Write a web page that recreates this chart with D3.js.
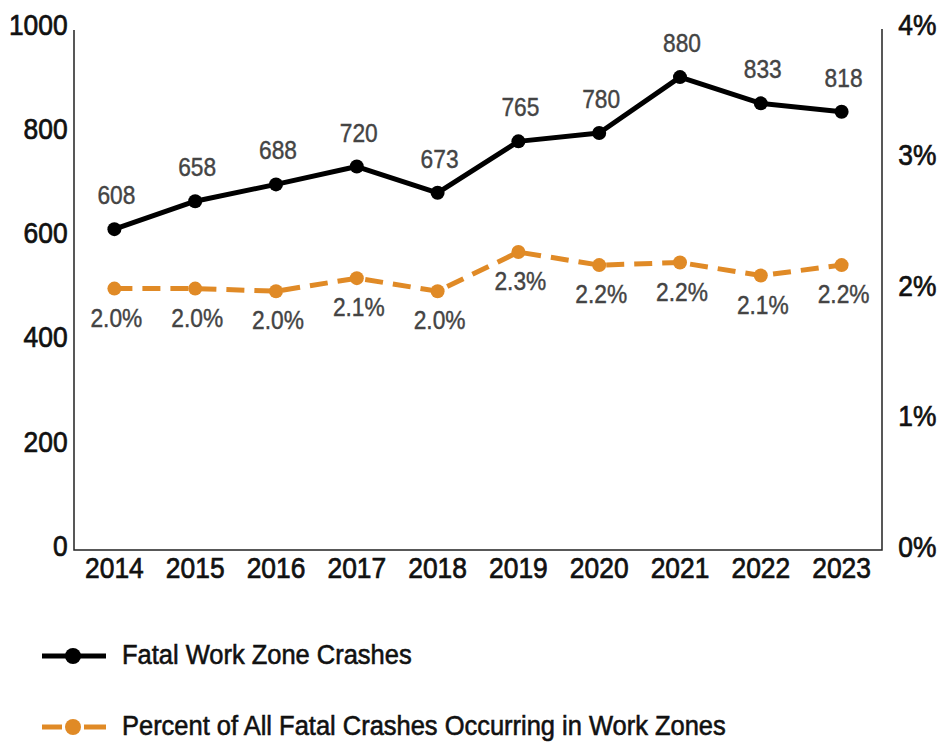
<!DOCTYPE html>
<html lang="en">
<head>
    <meta charset="UTF-8">
    <script src="https://d3js.org/d3.v7.min.js"></script>
    <style>
        body { margin: 0; background: #fff; }
        text { font-family: "Liberation Sans", Arial, sans-serif; }
    </style>
</head>
<body>
<div id="visualization"></div>

<script>
// chart data
const years = ["2014", "2015", "2016", "2017", "2018", "2019", "2020", "2021", "2022", "2023"];
const fatalCrashes = [608, 658, 688, 720, 673, 765, 780, 880, 833, 818];
const percentWorkZone = [1.98, 1.98, 1.96, 2.06, 1.96, 2.26, 2.16, 2.18, 2.08, 2.16];
const leftTicks = [0, 200, 400, 600, 800, 1000];
const rightTicks = [0, 1, 2, 3, 4];
const legendLabels = ["Fatal Work Zone Crashes", "Percent of All Fatal Crashes Occurring in Work Zones"];

const svgWidth = 941, svgHeight = 742;
const left = 74, right = 882, bottom = 550;
const squeeze = 'scale(0.91,1)';
const orange = '#e08a26';

const svg = d3.select('#visualization').append('svg')
    .attr('width', svgWidth)
    .attr('height', svgHeight);

const x = d3.scaleBand().domain(years).range([left, right]);
const cx = (d) => x(d) + x.bandwidth() / 2;

const yAxisLeft = d3.scaleLinear().domain([0, 1000]).range([546, 25]);
const yLine = d3.scaleLinear().domain([0, 1000]).range([569, 10]);
const yPct = d3.scaleLinear().domain([0, 4]).range([547, 25]);

// frame (no top line)
svg.append('path')
    .attr('d', `M${left},30V${bottom}H${right}V29`)
    .attr('fill', 'none')
    .attr('stroke', '#222')
    .attr('stroke-width', 1.5);

// axes
const xAxis = svg.append('g')
    .attr('transform', 'translate(0,' + bottom + ')')
    .call(d3.axisBottom(x).tickSize(0).tickPadding(7));

const yAxisL = svg.append('g')
    .attr('transform', 'translate(' + left + ',0)')
    .call(d3.axisLeft(yAxisLeft).tickValues(leftTicks).tickSize(0).tickPadding(7).tickFormat(d3.format('d')));

const yAxisR = svg.append('g')
    .attr('transform', 'translate(' + right + ',0)')
    .call(d3.axisRight(yPct).tickValues(rightTicks).tickSize(0).tickPadding(18).tickFormat((d) => d + '%'));

[xAxis, yAxisL, yAxisR].forEach((g) => {
    g.select('.domain').remove();
    g.selectAll('text')
        .attr('font-size', 29)
        .attr('font-family', '"Liberation Sans", Arial, sans-serif')
        .attr('fill', '#111')
        .attr('stroke', '#111')
        .attr('stroke-width', 0.7)
        .attr('transform', squeeze);
});

// percent line (dashed)
const pctLine = d3.line()
    .x((d, i) => cx(years[i]))
    .y((d) => yPct(d));

svg.append('path')
    .datum(percentWorkZone)
    .attr('fill', 'none')
    .attr('stroke', orange)
    .attr('stroke-width', 5)
    .attr('stroke-dasharray', '18,10')
    .attr('d', pctLine);

svg.selectAll('.pct-dot')
    .data(percentWorkZone)
    .enter().append('circle')
    .attr('class', 'pct-dot')
    .attr('cx', (d, i) => cx(years[i]))
    .attr('cy', (d) => yPct(d))
    .attr('r', 7)
    .attr('fill', orange);

svg.selectAll('.pct-label')
    .data(percentWorkZone)
    .enter().append('text')
    .attr('class', 'pct-label')
    .attr('transform', (d, i) => `translate(${cx(years[i]) + 2},${yPct(d) + 38}) ${squeeze}`)
    .attr('text-anchor', 'middle')
    .attr('font-size', 25)
    .attr('fill', '#444')
    .attr('stroke', '#444')
    .attr('stroke-width', 0.4)
    .text((d) => d.toFixed(1) + '%');

// fatal crashes line
const crashLine = d3.line()
    .x((d, i) => cx(years[i]))
    .y((d) => yLine(d));

svg.append('path')
    .datum(fatalCrashes)
    .attr('fill', 'none')
    .attr('stroke', '#000')
    .attr('stroke-width', 5)
    .attr('stroke-linejoin', 'round')
    .attr('d', crashLine);

svg.selectAll('.crash-dot')
    .data(fatalCrashes)
    .enter().append('circle')
    .attr('class', 'crash-dot')
    .attr('cx', (d, i) => cx(years[i]))
    .attr('cy', (d) => yLine(d))
    .attr('r', 7)
    .attr('fill', '#000');

svg.selectAll('.crash-label')
    .data(fatalCrashes)
    .enter().append('text')
    .attr('class', 'crash-label')
    .attr('transform', (d, i) => `translate(${cx(years[i]) + 2},${yLine(d) - 25}) ${squeeze}`)
    .attr('text-anchor', 'middle')
    .attr('font-size', 25)
    .attr('fill', '#444')
    .attr('stroke', '#444')
    .attr('stroke-width', 0.4)
    .text((d) => d);

// legend
const legend = svg.append('g');
const rows = [
    { label: legendLabels[0], color: '#000', dashed: false, y: 656 },
    { label: legendLabels[1], color: orange, dashed: true, y: 727 }
];

rows.forEach((r) => {
    if (r.dashed) {
        legend.append('line').attr('x1', 42).attr('x2', 62).attr('y1', r.y).attr('y2', r.y)
            .attr('stroke', r.color).attr('stroke-width', 5);
        legend.append('line').attr('x1', 84).attr('x2', 106).attr('y1', r.y).attr('y2', r.y)
            .attr('stroke', r.color).attr('stroke-width', 5);
    } else {
        legend.append('line').attr('x1', 42).attr('x2', 106).attr('y1', r.y).attr('y2', r.y)
            .attr('stroke', r.color).attr('stroke-width', 5);
    }
    legend.append('circle').attr('cx', 73).attr('cy', r.y).attr('r', 8).attr('fill', r.color);
    legend.append('text')
        .attr('transform', `translate(122,${r.y + 8}) ${squeeze}`)
        .attr('font-size', 28)
        .attr('fill', '#111')
        .attr('stroke', '#111')
        .attr('stroke-width', 0.6)
        .text(r.label);
});
</script>
</body>
</html>
